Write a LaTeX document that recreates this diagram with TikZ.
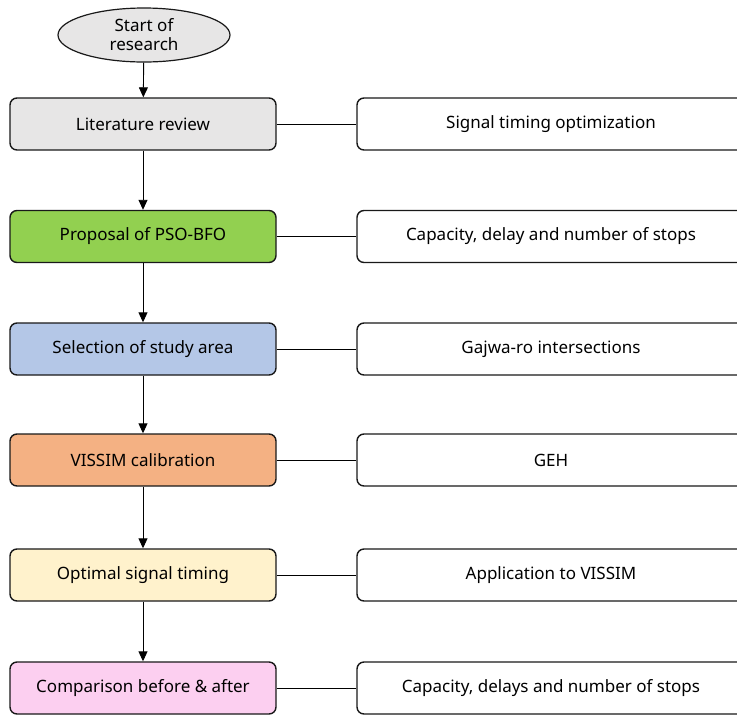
\documentclass[tikz,border=0pt]{standalone}
\usepackage{fontspec}
\setmainfont{Noto Sans}
\usetikzlibrary{arrows.meta,shapes.geometric}
\definecolor{cgray}{HTML}{E7E6E6}
\definecolor{cgreen}{HTML}{92D050}
\definecolor{cblue}{HTML}{B4C7E7}
\definecolor{corange}{HTML}{F4B183}
\definecolor{cyellow}{HTML}{FFF2CC}
\definecolor{cpink}{HTML}{FCCFF0}
\tikzset{
  leftbox/.style={draw=black!90, line width=1.4pt, rounded corners=7pt, minimum width=266pt, minimum height=52pt, inner sep=0pt, font=\fontsize{17}{20}\selectfont},
  rightbox/.style={draw=black!90, line width=1.4pt, rounded corners=7pt, minimum width=388pt, minimum height=52pt, inner sep=0pt, fill=white, font=\fontsize{17}{20}\selectfont},
  startnode/.style={ellipse, draw=black!90, line width=1.2pt, fill=cgray, minimum width=172pt, minimum height=54pt, inner sep=0pt, align=center, font=\fontsize{17}{20}\selectfont},
  flow/.style={-{Triangle[length=10pt,width=9pt]}, line width=0.9pt},
  link/.style={line width=0.9pt}
}
\begin{document}
\begin{tikzpicture}[x=1pt,y=-1pt]
\useasboundingbox (0,0) rectangle (737,716);
\begin{scope}
\clip (0,0) rectangle (737,716);
\node[startnode] (s) at (144,35) {Start of\\[-1pt]research};
\node[leftbox, fill=cgray] (l1) at (143,124) {Literature review};
\node[leftbox, fill=cgreen] (l2) at (143,236.5) {Proposal of PSO-BFO};
\node[leftbox, fill=cblue] (l3) at (143,349) {Selection of study area};
\node[leftbox, fill=corange] (l4) at (143,460) {VISSIM calibration};
\node[leftbox, fill=cyellow] (l5) at (143,575) {Optimal signal timing};
\node[leftbox, fill=cpink] (l6) at (143,688) {Comparison before \& after};
\node[rightbox] (r1) at (551,124) {Signal timing optimization};
\node[rightbox] (r2) at (551,236.5) {Capacity, delay and number of stops};
\node[rightbox] (r3) at (551,349) {Gajwa-ro intersections};
\node[rightbox] (r4) at (551,460) {GEH};
\node[rightbox] (r5) at (551,575) {Application to VISSIM};
\node[rightbox] (r6) at (551,688) {Capacity, delays and number of stops};
\end{scope}
\draw[flow] (s) -- (l1);
\draw[flow] (l1) -- (l2);
\draw[flow] (l2) -- (l3);
\draw[flow] (l3) -- (l4);
\draw[flow] (l4) -- (l5);
\draw[flow] (l5) -- (l6);
\draw[link] (l1) -- (r1);
\draw[link] (l2) -- (r2);
\draw[link] (l3) -- (r3);
\draw[link] (l4) -- (r4);
\draw[link] (l5) -- (r5);
\draw[link] (l6) -- (r6);
\end{tikzpicture}
\end{document}
